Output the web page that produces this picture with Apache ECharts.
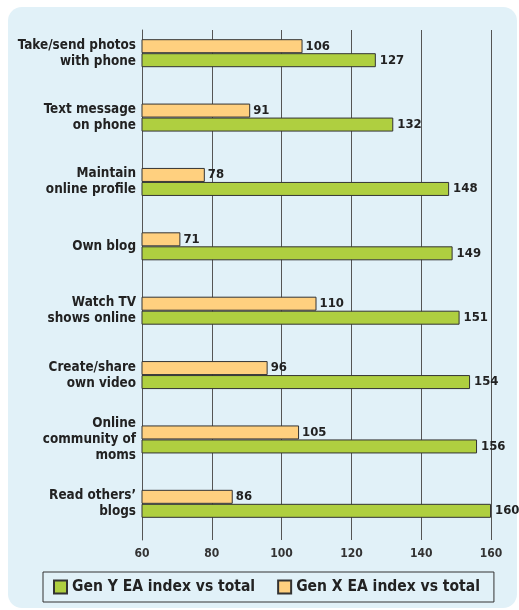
<!DOCTYPE html>
<html>
<head>
<meta charset="utf-8">
<script src="https://cdn.jsdelivr.net/npm/echarts@6/dist/echarts.min.js"></script>
<style>
  html, body { margin: 0; padding: 0; background: #fff; }
  #chart { width: 519px; height: 610px; }
</style>
</head>
<body>
<div id="chart"></div>
<script>
// категории сверху вниз
const categories = [
  'Take/send photos\nwith phone',
  'Text message\non phone',
  'Maintain\nonline profile',
  'Own blog',
  'Watch TV\nshows online',
  'Create/share\nown video',
  'Online\ncommunity of\nmoms',
  'Read others\u2019\nblogs'
]
const genX = [106, 91, 78, 71, 110, 96, 105, 86]
const genY = [127, 132, 148, 149, 151, 154, 156, 160]
const xTicks = [60, 80, 100, 120, 140, 160]

const FONT = '"DejaVu Sans Condensed", "DejaVu Sans", sans-serif'
const chart = echarts.init(document.getElementById('chart'))

const labelStyle = { color: '#222', fontFamily: FONT, fontWeight: 'bold', fontSize: 13 }

chart.setOption({
  animation: false,
  backgroundColor: '#fff',
  graphic: [{
    type: 'rect',
    shape: { x: 8, y: 7, width: 509, height: 601, r: 14 },
    style: { fill: '#e1f1f8' },
    z: -10
  }],
  // grid 0 — бары, grid 1 — сетка и шкала (чуть другой вертикальный диапазон)
  grid: [
    { left: 142, right: 28, top: 21, bottom: 74 },
    { left: 142, right: 28, top: 30, bottom: 70 }
  ],
  legend: {
    data: ['Gen Y EA index vs total', 'Gen X EA index vs total'],
    left: 43,
    top: 572,
    padding: [7, 14, 7, 10],
    itemGap: 22,
    itemWidth: 13,
    itemHeight: 13,
    borderColor: '#333',
    borderWidth: 1,
    icon: 'rect',
    textStyle: { fontFamily: FONT, fontWeight: 'bold', fontSize: 15.5, color: '#222' }
  },
  xAxis: [
    {
      gridIndex: 0,
      type: 'value',
      min: xTicks[0],
      max: xTicks[xTicks.length - 1],
      interval: 20,
      show: false
    },
    {
      gridIndex: 1,
      type: 'value',
      min: xTicks[0],
      max: xTicks[xTicks.length - 1],
      interval: 20,
      axisLine: { show: false },
      axisTick: { show: false },
      axisLabel: { color: '#333', fontFamily: FONT, fontWeight: 'bold', fontSize: 12, margin: 8 },
      splitLine: { show: true, lineStyle: { color: '#555', width: 1 } }
    }
  ],
  yAxis: [
    {
      gridIndex: 0,
      type: 'category',
      data: categories,
      inverse: true,
      axisLine: { show: false },
      axisTick: { show: false },
      axisLabel: {
        color: '#222', fontFamily: FONT, fontWeight: 'bold', fontSize: 13.4,
        lineHeight: 16, align: 'right', margin: 6
      }
    },
    {
      gridIndex: 1,
      type: 'value',
      min: 0,
      max: 1,
      axisLine: { show: true, lineStyle: { color: '#555', width: 1 } },
      axisTick: { show: false },
      axisLabel: { show: false },
      splitLine: { show: false }
    }
  ],
  series: [
    {
      name: 'Gen X EA index vs total',
      type: 'bar',
      xAxisIndex: 0,
      yAxisIndex: 0,
      data: genX,
      barWidth: 14,
      barGap: '0%',
      itemStyle: { color: '#ffd07f', borderColor: '#333', borderWidth: 1 },
      label: Object.assign({ show: true, position: 'right', distance: 3 }, labelStyle)
    },
    {
      name: 'Gen Y EA index vs total',
      type: 'bar',
      xAxisIndex: 0,
      yAxisIndex: 0,
      data: genY,
      barWidth: 14,
      barGap: '0%',
      itemStyle: { color: '#afcf40', borderColor: '#333', borderWidth: 1 },
      label: Object.assign({ show: true, position: 'right', distance: 4 }, labelStyle)
    }
  ]
})
</script>
</body>
</html>
